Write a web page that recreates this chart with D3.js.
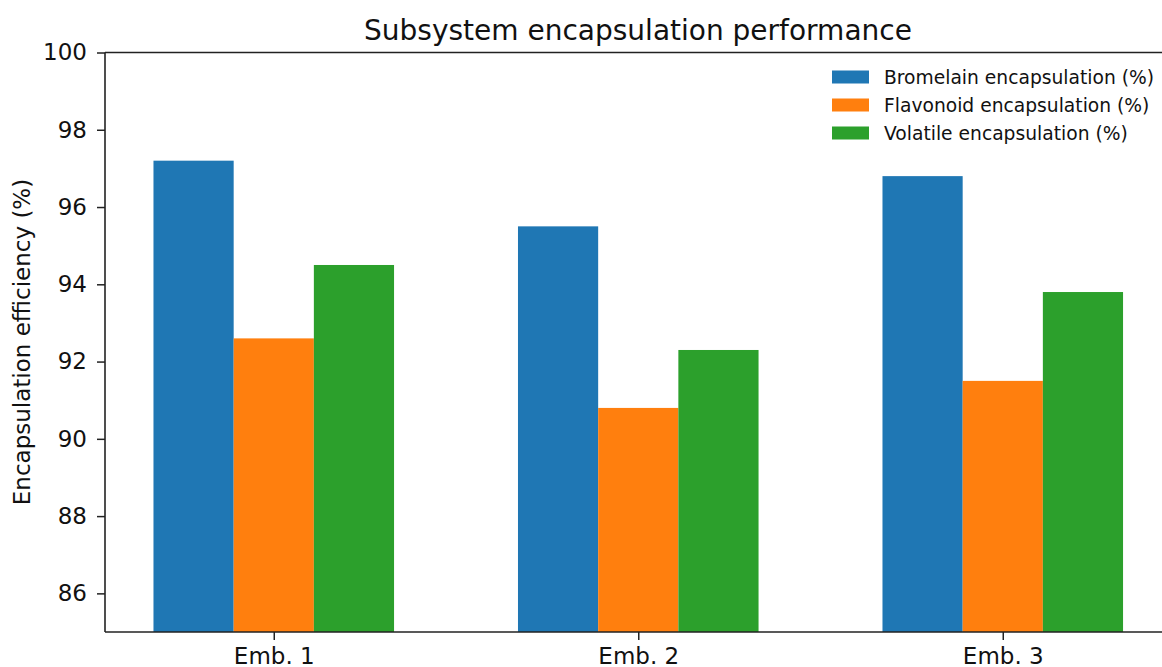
<!DOCTYPE html>
<html><head><meta charset="utf-8">
<script src="https://cdn.jsdelivr.net/npm/d3@7"></script>
<style>body{margin:0;background:#fff;font-family:"DejaVu Sans",sans-serif;}</style>
</head><body><svg id="c" width="1162" height="667"></svg>
<script>
const categories = ["Emb. 1", "Emb. 2", "Emb. 3"];
const seriesNames = ["Bromelain encapsulation (%)", "Flavonoid encapsulation (%)", "Volatile encapsulation (%)"];
const bromelain = [97.2, 95.5, 96.8];
const flavonoid = [92.6, 90.8, 91.5];
const volatile = [94.5, 92.3, 93.8];
const colors = ["#1f77b4", "#ff7f0e", "#2ca02c"];
const yTicks = [86, 88, 90, 92, 94, 96, 98, 100];
const series = [bromelain, flavonoid, volatile];

(function () {
const svg = d3.select("#c");
const mLeft = 105, mTop = 52.5, mBottom = 632;
const barW = 0.22;
const x = d3.scaleLinear().domain([-0.463, 2.463]).range([mLeft, mLeft + 2.926 * 364.5]);
const y = d3.scaleLinear().domain([85, 100]).range([mBottom, mTop]);

series.forEach((vals, si) => {
  svg.append("g").selectAll("rect").data(vals).join("rect")
    .attr("x", (d, i) => x(i + (si - 1) * barW - barW / 2))
    .attr("width", x(barW) - x(0))
    .attr("y", d => y(d))
    .attr("height", d => y(85) - y(d))
    .attr("fill", colors[si]);
});

const yAxis = d3.axisLeft(y).tickValues(yTicks).tickSize(8).tickPadding(10).tickFormat(d3.format("d"));
const gy = svg.append("g").attr("transform", `translate(${mLeft},0)`).call(yAxis);
const xAxis = d3.axisBottom(x).tickValues([0, 1, 2]).tickSize(8).tickPadding(8).tickFormat(i => categories[i]);
const gx = svg.append("g").attr("transform", `translate(0,${mBottom})`).call(xAxis);
[gy, gx].forEach(g => {
  g.attr("font-size", 23).attr("font-family", "DejaVu Sans, sans-serif");
  g.select(".domain").remove();
  g.selectAll("line").attr("stroke", "#222").attr("stroke-width", 1.5);
  g.selectAll("text").attr("font-size", 23).attr("fill", "#111");
});
const sp = svg.append("g").attr("stroke", "#222").attr("stroke-width", 1.6).attr("fill", "none");
sp.append("line").attr("x1", mLeft).attr("x2", mLeft).attr("y1", mTop).attr("y2", mBottom);
sp.append("line").attr("x1", mLeft).attr("x2", 1162).attr("y1", mTop).attr("y2", mTop);
sp.append("line").attr("x1", mLeft).attr("x2", 1162).attr("y1", mBottom).attr("y2", mBottom);

svg.append("text").attr("x", 638).attr("y", 40).attr("text-anchor", "middle")
  .attr("font-size", 28).attr("fill", "#111").text("Subsystem encapsulation performance");
svg.append("text").attr("transform", "translate(30,342) rotate(-90)").attr("text-anchor", "middle")
  .attr("font-size", 23).attr("fill", "#111").text("Encapsulation efficiency (%)");

const lg = svg.append("g");
seriesNames.forEach((n, i) => {
  const yy = 77 + i * 28;
  lg.append("rect").attr("x", 832).attr("y", yy - 6.5).attr("width", 37).attr("height", 13).attr("fill", colors[i]);
  lg.append("text").attr("x", 884).attr("y", yy + 7).attr("font-size", 18.7).attr("fill", "#111").text(n);
});
})();
</script></body></html>
